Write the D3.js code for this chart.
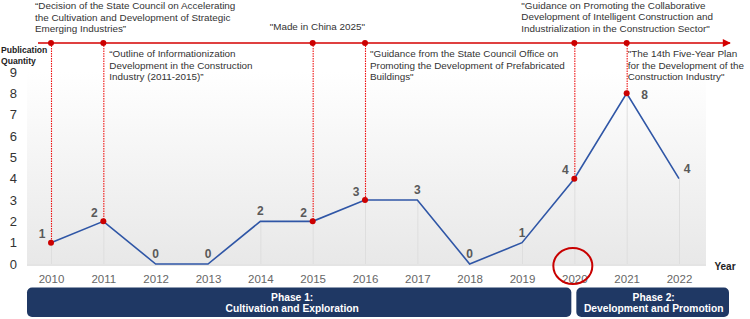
<!DOCTYPE html>
<html>
<head>
<meta charset="utf-8">
<script src="https://cdn.jsdelivr.net/npm/d3@7"></script>
<style>
  html, body { margin: 0; padding: 0; background: #fff; }
  svg { display: block; }
</style>
</head>
<body>
<script>
// --- data ---
const years = [2010, 2011, 2012, 2013, 2014, 2015, 2016, 2017, 2018, 2019, 2020, 2021, 2022];
const counts = [1, 2, 0, 0, 2, 2, 3, 3, 0, 1, 4, 8, 4];
const yTicks = [0, 1, 2, 3, 4, 5, 6, 7, 8, 9];
// where the value label sits relative to its point
const labelSide = ["left", "left", "top", "top", "top", "left", "left", "top", "top", "top", "left", "right", "topright"];

const policyYears = [2010, 2011, 2015, 2016, 2020, 2021];
const policyTexts = [
  ["\u201CDecision of the State Council on Accelerating", "the Cultivation and Development of Strategic", "Emerging Industries\u201D"],
  ["\u201COutline of Informationization", "Development in the Construction", "Industry (2011-2015)\u201D"],
  ["\"Made in China 2025\""],
  ["\"Guidance from the State Council Office on", "Promoting the Development of Prefabricated", "Buildings\""],
  ["\"Guidance on Promoting the Collaborative", "Development of Intelligent Construction and", "Industrialization in the Construction Sector\""],
  ["\"The 14th Five-Year Plan", "for the Development of the", "Construction Industry\""]
];

const phaseNames = ["Phase 1:", "Phase 2:"];
const phaseSubs = ["Cultivation and Exploration", "Development and Promotion"];
const highlightYear = 2020;

// --- layout ---
const W = 750, H = 319;
const FONT = "'Liberation Sans', Arial, sans-serif";
const svg = d3.select("body").append("svg").attr("width", W).attr("height", H)
  .style("font-family", FONT);

const x = d3.scaleLinear().domain([2010, 2022]).range([51, 679]);
const y = d3.scaleLinear().domain([0, 9]).range([264, 72]);
const lineY = 43;           // policy timeline
const plotL = 27, plotR = 706;

// background gradient
const defs = svg.append("defs");
const grad = defs.append("linearGradient").attr("id", "bg").attr("x1", 0).attr("y1", 0).attr("x2", 0).attr("y2", 1);
grad.append("stop").attr("offset", "0%").attr("stop-color", "#ffffff");
grad.append("stop").attr("offset", "100%").attr("stop-color", "#e8e8e8");
svg.append("rect").attr("x", plotL).attr("y", y(9)).attr("width", plotR - plotL).attr("height", y(0) - y(9))
  .attr("fill", "url(#bg)");

// baseline
svg.append("line").attr("x1", plotL).attr("x2", plotR).attr("y1", y(0) + 1).attr("y2", y(0) + 1)
  .attr("stroke", "#e4e4e4").attr("stroke-width", 2);

// drop lines
svg.append("g").selectAll("line").data(years).join("line")
  .attr("x1", d => x(d) + 0.5).attr("x2", d => x(d) + 0.5)
  .attr("y1", y(0)).attr("y2", (d, i) => y(counts[i]))
  .attr("stroke", "#dedede").attr("stroke-width", 1);

// y axis
const yAxis = svg.append("g").attr("transform", "translate(19,0)")
  .call(d3.axisLeft(y).tickValues(yTicks).tickSize(0).tickPadding(2).tickFormat(d3.format("d")));
yAxis.select(".domain").remove();
yAxis.selectAll("text").attr("font-size", 13).attr("fill", "#333").attr("font-family", FONT);

svg.append("text").attr("x", 1).attr("y", 53).attr("font-size", 8.6).attr("font-weight", "bold").attr("fill", "#222")
  .selectAll("tspan").data(["Publication", "Quantity"]).join("tspan")
  .attr("x", 1).attr("dy", (d, i) => i ? 10.5 : 0).text(d => d);

// x axis
const xAxis = svg.append("g").attr("transform", `translate(0,${y(0)})`)
  .call(d3.axisBottom(x).tickValues(years).tickSize(0).tickPadding(11).tickFormat(d3.format("d")));
xAxis.select(".domain").remove();
xAxis.selectAll("text").attr("font-size", 11.5).attr("fill", "#666").attr("font-family", FONT);

svg.append("text").attr("x", 725).attr("y", 269.5).attr("text-anchor", "middle")
  .attr("font-size", 10).attr("font-weight", "bold").attr("fill", "#222").text("Year");

// highlight circle
svg.append("ellipse").attr("cx", x(highlightYear) - 1.5).attr("cy", 266).attr("rx", 19.5).attr("ry", 18)
  .attr("fill", "none").attr("stroke", "#c80000").attr("stroke-width", 2);

// timeline arrow
defs.append("marker").attr("id", "arr").attr("viewBox", "0 0 10 10").attr("refX", 9).attr("refY", 5)
  .attr("markerWidth", 9).attr("markerHeight", 8).attr("markerUnits", "userSpaceOnUse").attr("orient", "auto")
  .append("path").attr("d", "M0,0L10,5L0,10Z").attr("fill", "#d40000");
svg.append("line").attr("x1", 38).attr("x2", 730).attr("y1", lineY).attr("y2", lineY)
  .attr("stroke", "#d40000").attr("stroke-width", 1.5).attr("marker-end", "url(#arr)");

// dotted connectors
svg.append("g").selectAll("line").data(policyYears).join("line")
  .attr("x1", d => x(d) + 0.5).attr("x2", d => x(d) + 0.5)
  .attr("y1", lineY).attr("y2", d => y(counts[years.indexOf(d)]))
  .attr("stroke", "#ee1111").attr("stroke-width", 1.1).attr("stroke-dasharray", "1.5,1");

// series line
svg.append("path").datum(years)
  .attr("d", d3.line().x(d => x(d)).y((d, i) => y(counts[i])))
  .attr("fill", "none").attr("stroke", "#2f56a6").attr("stroke-width", 1.6);

// red dots on timeline and points
svg.append("g").selectAll("circle").data(policyYears).join("circle")
  .attr("cx", d => x(d)).attr("cy", lineY).attr("r", 3).attr("fill", "#cc0000");
svg.append("g").selectAll("circle").data(policyYears).join("circle")
  .attr("cx", d => x(d)).attr("cy", d => y(counts[years.indexOf(d)])).attr("r", 3).attr("fill", "#cc0000");

// value labels
const lblDx = { left: -9, top: 0, right: 18, topright: 8 };
const lblDy = { left: -4.5, top: -6, right: 6, topright: -6 };
svg.append("g").selectAll("text").data(years).join("text")
  .attr("x", (d, i) => x(d) + lblDx[labelSide[i]])
  .attr("y", (d, i) => y(counts[i]) + lblDy[labelSide[i]])
  .attr("text-anchor", "middle")
  .attr("font-size", 12).attr("font-weight", "bold").attr("fill", "#595959")
  .text((d, i) => counts[i]);

// policy annotations
const annoDx = [-16, 6, -43, 5, -53, 1];
const annoTop = [9.2, 57, 29.5, 57, 8.5, 57];
const anno = svg.append("g").attr("font-size", 9.9).attr("fill", "#333");
policyYears.forEach((yr, k) => {
  const t = anno.append("text").attr("x", x(yr) + annoDx[k]).attr("y", annoTop[k]);
  t.selectAll("tspan").data(policyTexts[k]).join("tspan")
    .attr("x", x(yr) + annoDx[k]).attr("dy", (d, i) => i ? 11.6 : 0).text(d => d);
});

// phase bars
const phaseX0 = [plotL, x(highlightYear) + 2];
const phaseX1 = [x(highlightYear) - 3, 729];
const phaseTextShift = [-7, 1];
const ph = svg.append("g").selectAll("g").data(phaseNames).join("g");
ph.append("rect")
  .attr("x", (d, i) => phaseX0[i]).attr("width", (d, i) => phaseX1[i] - phaseX0[i])
  .attr("y", 287.5).attr("height", 29.5).attr("rx", 5)
  .attr("fill", "#1f3864");
ph.each(function (d, i) {
  const cx = (phaseX0[i] + phaseX1[i]) / 2 + phaseTextShift[i];
  [d, phaseSubs[i]].forEach((s, j) => {
    const t = d3.select(this).append("text")
      .attr("x", cx).attr("y", 300.5 + j * 11.8).attr("text-anchor", "middle").attr("fill", "#fff")
      .attr("font-size", 11.4).attr("font-weight", "bold").text(s);
    const len = t.node().getComputedTextLength();
    t.attr("textLength", len * 0.9).attr("lengthAdjust", "spacingAndGlyphs");
  });
});
</script>
</body>
</html>
